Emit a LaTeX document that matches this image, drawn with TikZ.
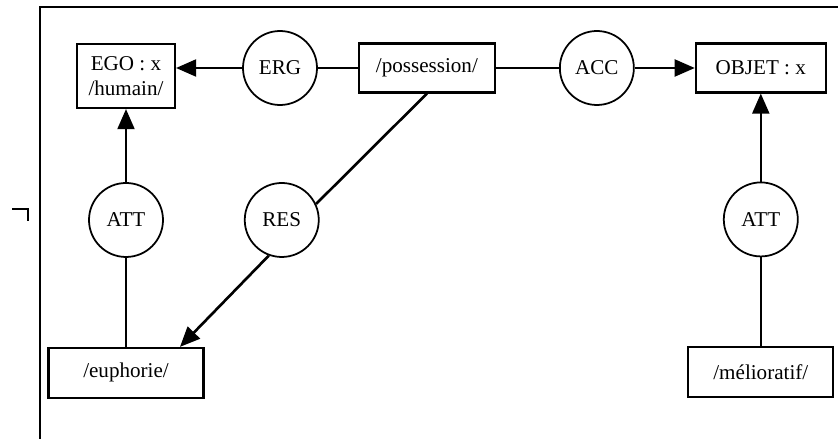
\documentclass[tikz,border=0pt]{standalone}
\usepackage{fontspec}
\setmainfont{Liberation Serif}
\usetikzlibrary{arrows.meta, positioning}

\begin{document}
\begin{tikzpicture}[>={Triangle[length=4mm, width=3.4mm]},
    box/.style={draw, line width=1.2pt, inner sep=2pt,
                minimum height=0.98cm, font=\fontsize{12}{14}\selectfont},
    role/.style={draw, circle, line width=1pt, minimum size=1.48cm,
                 inner sep=0pt, font=\fontsize{12}{14}\selectfont},
    link/.style={line width=1.1pt},
    diag/.style={line width=1.5pt}]
  \useasboundingbox (0,0) rectangle (16.76,-8.78);

  % frame and margin mark
  \draw[line width=1.3pt] (0.8,-8.78) -- (0.8,-0.14) -- (16.76,-0.14);
  \draw[line width=1.4pt] (0.24,-4.18) -- (0.56,-4.18) -- (0.56,-4.42);

  % top row
  \node[box, minimum width=1.96cm, minimum height=1.28cm, align=center,
        anchor=north] (ego) at (2.52,-0.86) {EGO : x\\/humain/};
  \node[role] (erg) at (5.6,-1.36) {ERG};
  \node[box, minimum width=2.72cm, right=0.8cm of erg] (poss) {/possession/};
  \node[role, right=1.26cm of poss] (acc) {ACC};
  \node[box, minimum width=2.6cm, right=1.2cm of acc] (objet) {OBJET : x};

  % middle row
  \node[role, below=1.46cm of ego] (attl) {ATT};
  \node[role, right=1.6cm of attl] (res) {RES};
  \node[role, below=1.76cm of objet] (attr) {ATT};

  % bottom row
  \node[box, minimum width=3.1cm, minimum height=1.0cm,
        below=1.78cm of attl] (euph) {/euphorie/};
  \node[box, minimum width=2.9cm, minimum height=1.0cm,
        below=1.78cm of attr] (melio) {/mélioratif/};

  \draw[link, ->] (erg) -- (erg -| ego.east);
  \draw[link] (erg) -- (poss);
  \draw[link] (poss) -- (acc);
  \draw[link, ->] (acc) -- (objet);
  \draw[link, ->] (attl) -- (ego);
  \draw[link] (attl) -- (euph);
  \draw[link, ->] (attr) -- (objet);
  \draw[link] (attr) -- (melio);
  \draw[diag] (poss.south) -- (res.25);
  \draw[diag, ->] (res.-110) -- ([xshift=1.08cm]euph.north);
\end{tikzpicture}
\end{document}
